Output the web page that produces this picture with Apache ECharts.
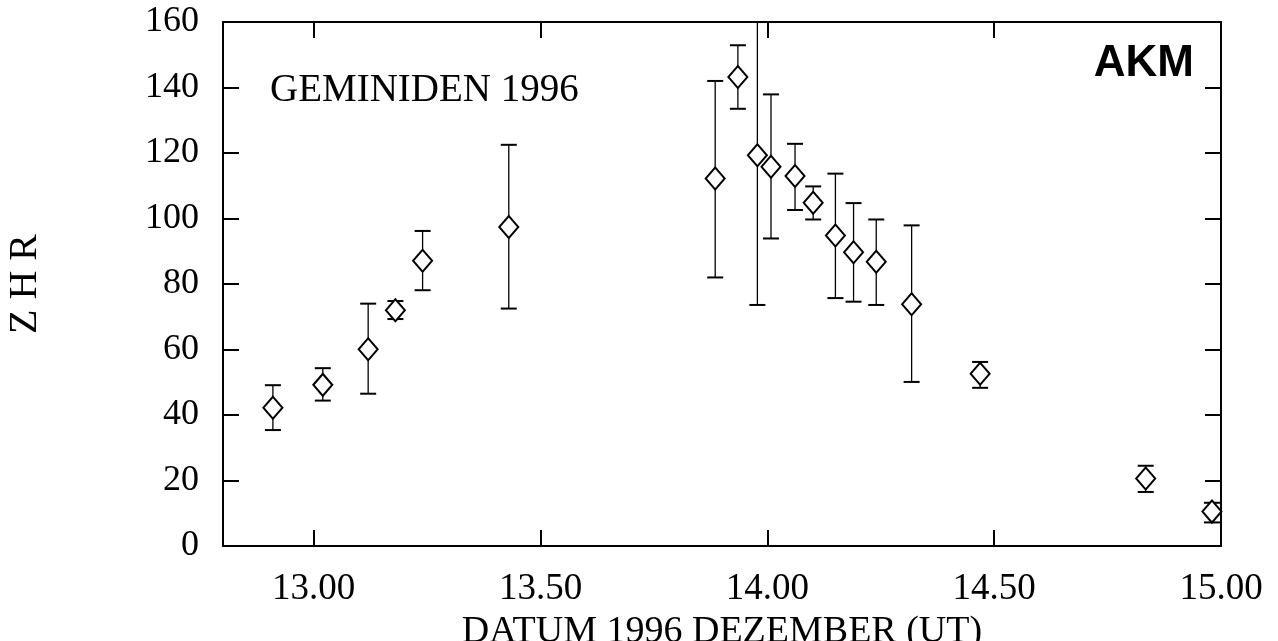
<!DOCTYPE html>
<html>
<head>
<meta charset="utf-8">
<title>Geminiden 1996</title>
<script src="https://cdn.jsdelivr.net/npm/echarts@6/dist/echarts.min.js"></script>
<style>
  html, body { margin: 0; padding: 0; background: #fff; }
  #main { width: 1278px; height: 641px; }
</style>
</head>
<body>
<div id="main"></div>
<script>
// Beobachtungszeitpunkte (Tag im Dezember 1996, UT)
const dayValues = [12.91, 13.02, 13.12, 13.18, 13.24, 13.43, 13.885, 13.935, 13.978, 14.008,
                   14.061, 14.101, 14.15, 14.19, 14.24, 14.318, 14.469, 14.834, 14.98];
// ZHR-Werte und Fehlerbalken
const zhrValues = [42.2, 49.2, 60.1, 72.0, 87.1, 97.4, 112.2, 143.2, 119.3, 115.8,
                   113.0, 104.8, 94.8, 89.7, 86.8, 73.8, 52.6, 20.6, 10.5];
const zhrHigh = [49.1, 54.3, 74.0, 74.8, 96.2, 122.5, 142.0, 152.9, 166, 137.9,
                 122.8, 109.8, 113.7, 104.7, 99.7, 97.9, 56.2, 24.5, 13.2];
const zhrLow = [35.4, 44.4, 46.5, 69.3, 78.1, 72.5, 82.0, 133.5, 73.6, 93.9,
                102.6, 99.7, 75.7, 74.6, 73.6, 50.1, 48.3, 16.5, 7.2];
// Achsenbeschriftung
const xTicks = [13.0, 13.5, 14.0, 14.5, 15.0];

const serif = '"Liberation Serif", "Times New Roman", serif';

let chart = echarts.init(document.getElementById('main'));

let points = dayValues.map((d, i) => [d, zhrValues[i]]);
let bars = dayValues.map((d, i) => [d, zhrLow[i], zhrHigh[i]]);

let axisLine = { show: true, onZero: false, lineStyle: { color: '#000', width: 2 } };
let tick = { show: true, inside: true, length: 16, lineStyle: { color: '#000', width: 2 } };

let option = {
    backgroundColor: '#fff',
    animation: false,
    grid: { left: 223, right: 57, top: 22, bottom: 95, containLabel: false, outerBoundsMode: 'none' },
    xAxis: [
        {
            type: 'value', position: 'bottom', min: 12.8, max: 15,
            axisLine: axisLine,
            axisTick: Object.assign({ customValues: xTicks }, tick),
            axisLabel: {
                customValues: xTicks, color: '#000', fontFamily: serif, fontSize: 37, margin: 25,
                formatter: v => v.toFixed(2)
            },
            splitLine: { show: false },
            name: 'DATUM 1996 DEZEMBER (UT)', nameLocation: 'middle', nameGap: 63,
            nameTextStyle: { color: '#000', fontFamily: serif, fontSize: 38 }
        },
        {
            type: 'value', position: 'top', min: 12.8, max: 15,
            axisLine: axisLine,
            axisTick: Object.assign({ customValues: xTicks }, tick),
            axisLabel: { show: false },
            splitLine: { show: false }
        }
    ],
    yAxis: [
        {
            type: 'value', position: 'left', min: 0, max: 160, interval: 20,
            axisLine: axisLine, axisTick: tick,
            axisLabel: { color: '#000', fontFamily: serif, fontSize: 36, margin: 24 },
            splitLine: { show: false },
            name: 'Z H R', nameLocation: 'middle', nameGap: 178,
            nameTextStyle: { color: '#000', fontFamily: serif, fontSize: 40 }
        },
        {
            type: 'value', position: 'right', min: 0, max: 160, interval: 20,
            axisLine: axisLine, axisTick: tick,
            axisLabel: { show: false },
            splitLine: { show: false }
        }
    ],
    graphic: [
        {
            type: 'text', left: 270, top: 71,
            style: { text: 'GEMINIDEN 1996', fill: '#000', font: '39px ' + serif }
        },
        {
            type: 'text', right: 84, top: 42,
            style: { text: 'AKM', fill: '#000', font: 'bold 44px "Liberation Sans", Arial, sans-serif' }
        }
    ],
    series: [
        {
            type: 'custom',
            clip: true,
            data: bars,
            encode: { x: 0, y: [1, 2] },
            renderItem: function (params, api) {
                let x = api.value(0);
                let lo = api.coord([x, api.value(1)]);
                let hi = api.coord([x, api.value(2)]);
                let cap = 8;
                return {
                    type: 'group',
                    children: [
                        { type: 'line', shape: { x1: lo[0], y1: lo[1], x2: hi[0], y2: hi[1] },
                          style: { stroke: '#000', lineWidth: 1.3 } },
                        { type: 'line', shape: { x1: hi[0] - cap, y1: hi[1], x2: hi[0] + cap, y2: hi[1] },
                          style: { stroke: '#000', lineWidth: 2 } },
                        { type: 'line', shape: { x1: lo[0] - cap, y1: lo[1], x2: lo[0] + cap, y2: lo[1] },
                          style: { stroke: '#000', lineWidth: 2 } }
                    ]
                };
            },
            z: 2
        },
        {
            type: 'scatter',
            data: points,
            symbol: 'diamond',
            symbolSize: [19, 22],
            itemStyle: { color: '#fff', borderColor: '#000', borderWidth: 2, opacity: 1 },
            z: 3
        }
    ]
};

chart.setOption(option);
</script>
</body>
</html>
